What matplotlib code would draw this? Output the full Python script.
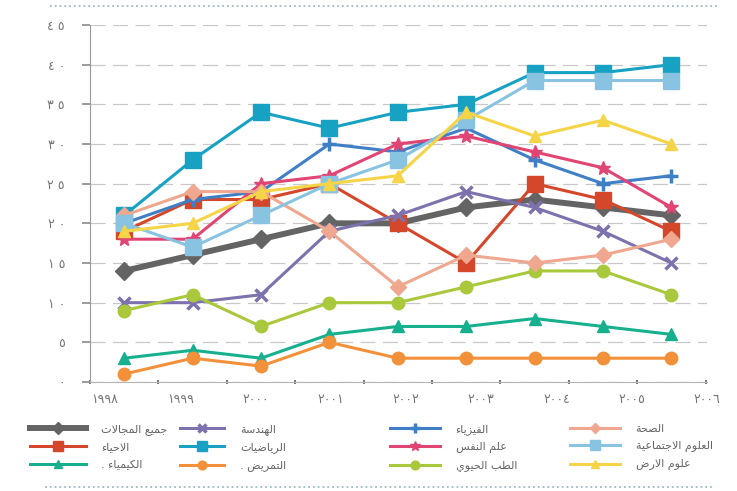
import matplotlib
matplotlib.use("Agg")
import matplotlib.pyplot as plt
from matplotlib.lines import Line2D
import numpy as np

# data
years = [1998, 1999, 2000, 2001, 2002, 2003, 2004, 2005, 2006]
all_fields = [14, 16, 18, 20, 20, 22, 23, 22, 21]
biology = [19, 23, 23, 25, 20, 15, 25, 23, 19]
chemistry = [3, 4, 3, 6, 7, 7, 8, 7, 6]
engineering = [10, 10, 11, 19, 21, 24, 22, 19, 15]
maths = [21, 28, 34, 32, 34, 35, 39, 39, 40]
nursing = [1, 3, 2, 5, 3, 3, 3, 3, 3]
physics = [20, 23, 24, 30, 29, 32, 28, 25, 26]
psychology = [18, 18, 25, 26, 30, 31, 29, 27, 22]
biomedical = [9, 11, 7, 10, 10, 12, 14, 14, 11]
health = [21, 24, 24, 19, 12, 16, 15, 16, 18]
social = [20, 17, 21, 25, 28, 33, 38, 38, 38]
earth = [19, 20, 24, 25, 26, 34, 31, 33, 30]

names = ["جميع المجالات", "الاحياء", "الكيمياء .",
         "الهندسة", "الرياضيات", "التمريض .",
         "الفيزياء", "علم النفس", "الطب الحيوي",
         "الصحة", "العلوم الاجتماعية", "علوم الارض"]
series = [all_fields, biology, chemistry, engineering, maths, nursing,
          physics, psychology, biomedical, health, social, earth]
colors = ["#646464", "#d4472b", "#17b08e", "#7d72ad", "#17a2c4", "#f3913a",
          "#3f7fc6", "#e04573", "#a9c83b", "#f0a78f", "#88c4e2", "#f6d448"]
markers = ["D", "s", "^", "x", "s", "o", "+", "*", "o", "D", "s", "^"]
msizes = [9, 11, 9, 9, 11, 9, 10, 10, 9, 8, 11, 9]
widths = [4.3, 2.2, 2.2, 2.2, 2.2, 2.2, 2.2, 2.2, 2.2, 2.2, 2.2, 2.2]

# simple arabic shaping (matplotlib has no bidi / joining support)
DUAL = {'ب': 0xFE8F, 'ت': 0xFE95, 'ج': 0xFE9D, 'ح': 0xFEA1, 'س': 0xFEB1,
        'ص': 0xFEB9, 'ض': 0xFEBD, 'ط': 0xFEC1, 'ع': 0xFEC9, 'ف': 0xFED1,
        'ك': 0xFED9, 'ل': 0xFEDD, 'م': 0xFEE1, 'ن': 0xFEE5, 'ه': 0xFEE9,
        'ي': 0xFEF1}
RIGHT = {'ا': 0xFE8D, 'ة': 0xFE93, 'د': 0xFEA9, 'ر': 0xFEAD, 'ز': 0xFEAF,
         'و': 0xFEED}


def shape(text):
    tokens = []
    i = 0
    while i < len(text):
        if text[i] == 'ل' and i + 1 < len(text) and text[i + 1] == 'ا':
            tokens.append('LA')
            i += 2
        else:
            tokens.append(text[i])
            i += 1
    out = []
    for k, t in enumerate(tokens):
        prev = tokens[k - 1] if k > 0 else None
        nxt = tokens[k + 1] if k + 1 < len(tokens) else None
        p = prev in DUAL and (t in DUAL or t in RIGHT or t == 'LA')
        n = t in DUAL and (nxt in DUAL or nxt in RIGHT or nxt == 'LA')
        if t == 'LA':
            out.append('\ufefc' if p else '\ufefb')
        elif t in DUAL:
            out.append(chr(DUAL[t] + (3 if p and n else 2 if n else 1 if p else 0)))
        elif t in RIGHT:
            out.append(chr(RIGHT[t] + (1 if p else 0)))
        elif t == 'ء':
            out.append('\ufe80')
        else:
            out.append(t)
    return ''.join(reversed(out))


AR_DIGITS = str.maketrans('0123456789', '٠١٢٣٤٥٦٧٨٩')

plt.rcParams['font.family'] = ['DejaVu Sans']

fig = plt.figure(figsize=(7.37, 4.91), dpi=100)
ax = fig.add_axes([90 / 737, 1 - 382 / 491, (707 - 90) / 737, (382 - 25) / 491])

x = np.arange(len(years))
handles = []
for vals, name, c, m, ms, lw in zip(series, names, colors, markers, msizes, widths):
    mew = 2.5 if m in ("x", "+") else 1
    h, = ax.plot(x, vals, color=c, lw=lw, marker=m, ms=ms, mec=c, mfc=c, mew=mew,
                 label=shape(name), solid_joinstyle="round")
    handles.append(h)

ax.set_xlim(-0.5, len(years) - 0.5)
ax.set_ylim(0, 45)

yt = np.arange(0, 50, 5)
ax.set_yticks(yt)
ax.set_yticklabels([' '.join(str(v).translate(AR_DIGITS)) for v in yt],
                   fontsize=9, color="#777777")
ax.tick_params(axis="y", direction="out", length=6, width=1.2, color="#8a8a8a", pad=12)

ax.set_xticks(np.arange(-0.5, len(years), 1))
ax.set_xticklabels([])
ax.tick_params(axis="x", which="major", direction="inout", length=3, width=1.5, color="#777777")
ax.set_xticks(-0.28 + 1.1 * x, minor=True)
ax.set_xticklabels([str(y).translate(AR_DIGITS) for y in years], minor=True,
                   fontsize=9, color="#777777")
ax.tick_params(axis="x", which="minor", length=0, pad=8)

ax.grid(axis="y", linestyle=(0, (12, 6)), color="#c8c8c8", lw=0.9)
ax.set_axisbelow(True)
for s in ["top", "right"]:
    ax.spines[s].set_visible(False)
ax.spines["left"].set_color("#9a9a9a")
ax.spines["bottom"].set_color("#b5b5b5")

# legend, four columns placed like the reference
col_x = [30, 180, 390, 570]
col_len = [5.0, 4.0, 4.5, 4.5]
for c, x0 in enumerate(col_x):
    leg = fig.legend(handles=handles[c * 3:(c + 1) * 3], loc="upper left",
                     bbox_to_anchor=(x0 / 737, 1 - 424 / 491), frameon=False,
                     fontsize=8, handlelength=col_len[c], handletextpad=1.4,
                     labelspacing=0.65, borderpad=0, borderaxespad=0, markerscale=0.7)
    for t in leg.get_texts():
        t.set_color("#666666")

# dotted rules above and below
fig.add_artist(Line2D([50 / 737, 720 / 737], [1 - 6 / 491] * 2, ls=":", lw=1.3,
                      color="#9fbac2", transform=fig.transFigure))
fig.add_artist(Line2D([45 / 737, 715 / 737], [1 - 487 / 491] * 2, ls=":", lw=1.3,
                      color="#9fbac2", transform=fig.transFigure))

fig.savefig("out.png", dpi=100)
